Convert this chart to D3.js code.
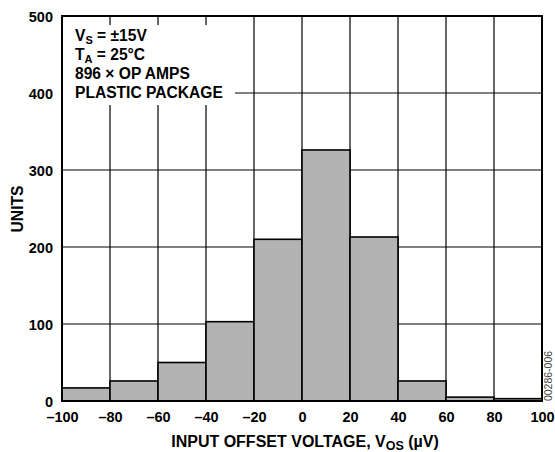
<!DOCTYPE html>
<html><head><meta charset="utf-8">
<script src="https://cdn.jsdelivr.net/npm/d3@7"></script>
<style>body{margin:0;background:#fff}svg{display:block}text{font-family:"Liberation Sans",Arial,sans-serif;font-weight:bold}</style>
</head><body>
<script>
const binStarts = [-100, -80, -60, -40, -20, 0, 20, 40, 60, 80];
const binWidth = 20;
const counts = [17, 26, 50, 103, 210, 326, 213, 26, 5, 3];
const xTicks = [-100, -80, -60, -40, -20, 0, 20, 40, 60, 80, 100];
const yTicks = [0, 100, 200, 300, 400, 500];
const legendLines = [["V", "S", " = ±15V"], ["T", "A", " = 25°C"], ["896 × OP AMPS", "", ""], ["PLASTIC PACKAGE", "", ""]];

const W = 555, H = 452;
const m = {l: 62, r: 13, t: 16, b: 51};
const svg = d3.select("body").append("svg").attr("width", W).attr("height", H);
const x = d3.scaleLinear().domain([-100, 100]).range([m.l, W - m.r]);
const y = d3.scaleLinear().domain([0, 500]).range([H - m.b, m.t]);

// grid
svg.append("g").selectAll("line").data(xTicks.slice(1, -1)).join("line")
  .attr("x1", d => x(d)).attr("x2", d => x(d)).attr("y1", y(500)).attr("y2", y(0))
  .attr("stroke", "#000").attr("stroke-width", 1.2);
svg.append("g").selectAll("line").data(yTicks.slice(1, -1)).join("line")
  .attr("x1", x(-100)).attr("x2", x(100)).attr("y1", d => y(d)).attr("y2", d => y(d))
  .attr("stroke", "#000").attr("stroke-width", 1.2);

// legend background
svg.append("rect").attr("x", x(-100) + 1).attr("y", 25).attr("width", 172).attr("height", 80).attr("fill", "#fff");

// bars
svg.append("g").selectAll("rect").data(binStarts).join("rect")
  .attr("x", d => x(d)).attr("width", d => x(d + binWidth) - x(d))
  .attr("y", (d, i) => y(counts[i])).attr("height", (d, i) => y(0) - y(counts[i]))
  .attr("fill", "#b3b3b3").attr("stroke", "#000").attr("stroke-width", 1.6);

// frame
svg.append("rect").attr("x", x(-100)).attr("y", y(500)).attr("width", x(100) - x(-100)).attr("height", y(0) - y(500))
  .attr("fill", "none").attr("stroke", "#000").attr("stroke-width", 2);

// axes labels
const xAxis = d3.axisBottom(x).tickValues(xTicks).tickSize(0).tickPadding(0)
  .tickFormat(d => d < 0 ? "\u2013" + Math.abs(d) : d);
const gx = svg.append("g").attr("transform", `translate(0,${y(0)})`).call(xAxis);
gx.select(".domain").remove();
gx.selectAll("text").attr("font-size", 14.5).attr("fill", "#000").attr("dy", null).attr("y", 20.5)
  .attr("font-family", '"Liberation Sans",Arial,sans-serif');

const yAxis = d3.axisLeft(y).tickValues(yTicks).tickSize(0).tickPadding(9);
const gy = svg.append("g").attr("transform", `translate(${x(-100)},0)`).call(yAxis);
gy.select(".domain").remove();
gy.selectAll("text").attr("font-size", 14.5).attr("fill", "#000").attr("dy", "0.36em")
  .attr("font-family", '"Liberation Sans",Arial,sans-serif');

// legend text
legendLines.forEach((l, i) => {
  const t = svg.append("text").attr("x", 75).attr("y", 41 + i * 18.9).attr("font-size", 15.6).attr("fill", "#000");
  t.append("tspan").text(l[0]);
  if (l[1]) {
    t.append("tspan").text(l[1]).attr("font-size", 11).attr("dy", 3);
    t.append("tspan").text(l[2]).attr("dy", -3);
  }
});

// y title
svg.append("text").attr("transform", "translate(22.5,209) rotate(-90)").attr("text-anchor", "middle")
  .attr("font-size", 15.7).attr("fill", "#000").text("UNITS");

// x title
const xt = svg.append("text").attr("x", 305).attr("y", 446.5).attr("text-anchor", "middle").attr("font-size", 16).attr("fill", "#000");
xt.append("tspan").text("INPUT OFFSET VOLTAGE, V");
xt.append("tspan").text("OS").attr("font-size", 12.5).attr("dy", 3.5);
xt.append("tspan").text(" (µV)").attr("dy", -3.5);

// figure id
svg.append("text").attr("transform", "translate(552,376) rotate(-90)").attr("text-anchor", "middle")
  .attr("font-size", 10.5).attr("fill", "#444").style("font-weight", "normal").text("00286-006");
</script>
</body></html>
